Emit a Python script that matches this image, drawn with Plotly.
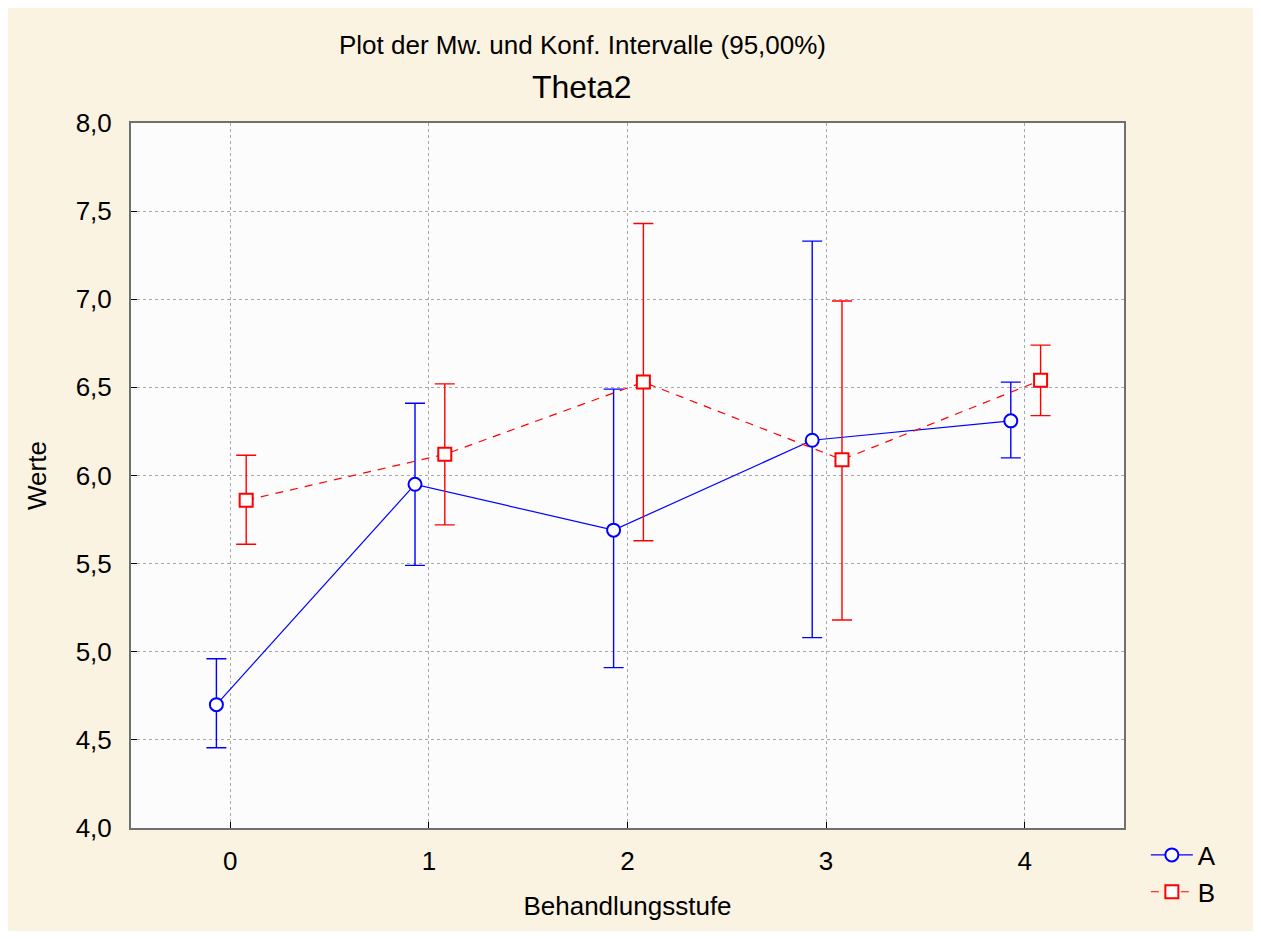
import plotly.graph_objects as go

stufen = [0, 1, 2, 3, 4]
a_mean = [4.70, 5.95, 5.69, 6.20, 6.31]
a_upper = [4.96, 6.41, 6.49, 7.33, 6.53]
a_lower = [4.455, 5.49, 4.91, 5.08, 6.10]
b_mean = [5.86, 6.12, 6.53, 6.09, 6.54]
b_upper = [6.115, 6.52, 7.43, 6.99, 6.74]
b_lower = [5.61, 5.72, 5.63, 5.18, 6.34]

title1 = "Plot der Mw. und Konf. Intervalle (95,00%)"
title2 = "Theta2"
x_title = "Behandlungsstufe"
y_title = "Werte"

FONT = "Liberation Sans, Arial, sans-serif"
BLUE = "#0000FF"
RED = "#FF0000"

a_x = [v - 0.07 for v in stufen]
b_x = [v + 0.08 for v in stufen]

fig = go.Figure()
fig.add_trace(go.Scatter(
    x=a_x, y=a_mean, name="A", mode="lines+markers",
    line=dict(color=BLUE, width=1.2),
    marker=dict(symbol="circle", size=13, color="white", line=dict(color=BLUE, width=2)),
    error_y=dict(type="data", symmetric=False,
                 array=[u - m for u, m in zip(a_upper, a_mean)],
                 arrayminus=[m - l for m, l in zip(a_mean, a_lower)],
                 color=BLUE, thickness=1.4, width=10),
))
fig.add_trace(go.Scatter(
    x=b_x, y=b_mean, name="B", mode="lines+markers",
    line=dict(color=RED, width=1.2, dash="8px,7px"),
    marker=dict(symbol="square", size=13, color="white", line=dict(color=RED, width=2)),
    error_y=dict(type="data", symmetric=False,
                 array=[u - m for u, m in zip(b_upper, b_mean)],
                 arrayminus=[m - l for m, l in zip(b_mean, b_lower)],
                 color=RED, thickness=1.4, width=10),
))

axis_common = dict(
    showline=True, mirror=True, linecolor="#707070", linewidth=2,
    ticks="inside", ticklen=6, tickcolor="black", tickwidth=1,
    showgrid=True, gridcolor="#A8A8A8", griddash="dot", gridwidth=1,
    zeroline=False, tickfont=dict(family=FONT, size=26, color="black"),
)

fig.update_xaxes(
    range=[-0.5, 4.5], tickvals=stufen, ticklabelstandoff=9,
    title=dict(text=x_title, font=dict(family=FONT, size=26, color="black"), standoff=22),
    **axis_common,
)
fig.update_yaxes(
    range=[4, 8], dtick=0.5, tick0=4, tickformat=".1f", ticklabelstandoff=12,
    title=dict(text=y_title, font=dict(family=FONT, size=26, color="black"), standoff=22),
    **axis_common,
)

fig.update_layout(
    width=1245, height=923,
    margin=dict(l=123, r=129, t=115, b=103),
    paper_bgcolor="#FBF3E2", plot_bgcolor="#FCFCFC",
    separators=",.",
    font=dict(family=FONT, size=26, color="black"),
    showlegend=True,
    legend=dict(x=1.022, y=-0.005, xanchor="left", yanchor="top",
                bgcolor="rgba(0,0,0,0)", font=dict(family=FONT, size=26, color="black"),
                tracegroupgap=0, itemwidth=42),
    annotations=[
        dict(text=title1, xref="paper", yref="paper", x=0.4545, y=1.1106,
             xanchor="center", yanchor="middle", showarrow=False,
             font=dict(family=FONT, size=26, color="black")),
        dict(text=title2, xref="paper", yref="paper", x=0.4545, y=1.051,
             xanchor="center", yanchor="middle", showarrow=False,
             font=dict(family=FONT, size=32, color="black")),
    ],
)

fig.write_html("out.html")
